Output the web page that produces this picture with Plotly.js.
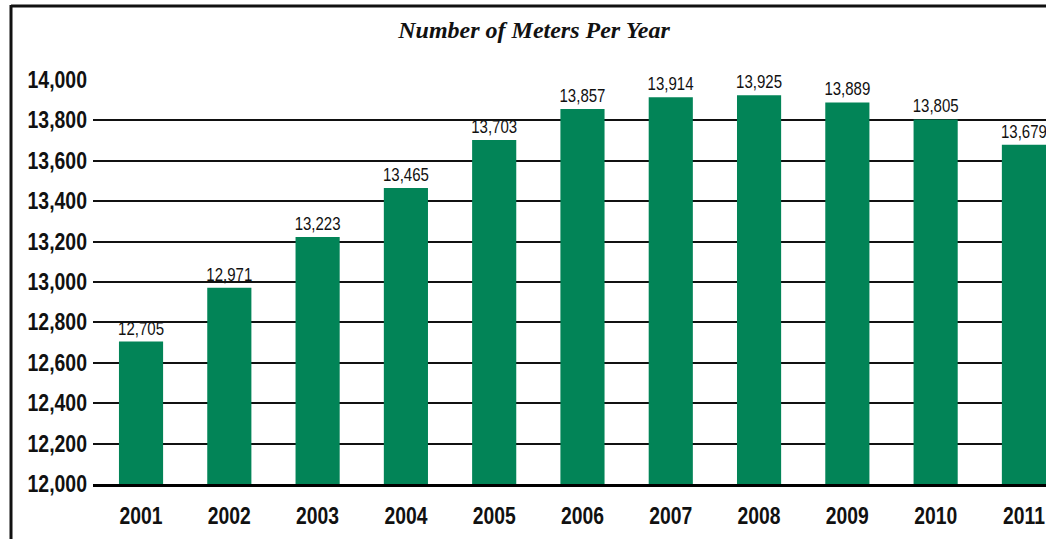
<!DOCTYPE html>
<html>
<head>
<meta charset="utf-8">
<script src="https://cdn.plot.ly/plotly-3.0.1.min.js"></script>
<style>
html,body{margin:0;padding:0;background:#fff;}
#chart{width:1046px;height:539px;}
</style>
</head>
<body>
<div id="chart"></div>
<script>
const years = ["2001","2002","2003","2004","2005","2006","2007","2008","2009","2010","2011"];
const meters = [12705, 12971, 13223, 13465, 13703, 13857, 13914, 13925, 13889, 13805, 13679];
const valueLabels = ["12,705","12,971","13,223","13,465","13,703","13,857","13,914","13,925","13,889","13,805","13,679"];
const yTicks = [12000,12200,12400,12600,12800,13000,13200,13400,13600,13800,14000];
const yTickLabels = ["12,000","12,200","12,400","12,600","12,800","13,000","13,200","13,400","13,600","13,800","14,000"];

const sans = '"Liberation Sans", Arial, sans-serif';

const trace = {
  type: 'bar',
  x: years,
  y: meters,
  text: valueLabels,
  textposition: 'outside',
  constraintext: 'none',
  cliponaxis: false,
  textfont: {family: sans, size: 19, color: '#111'},
  marker: {color: '#028457'},
  width: 0.5,
  hoverinfo: 'skip'
};

const layout = {
  width: 1046,
  height: 539,
  margin: {l: 93, r: 0, t: 80, b: 55, pad: 0},
  paper_bgcolor: '#fff',
  plot_bgcolor: '#fff',
  showlegend: false,
  title: {
    text: '<b><i>Number of Meters Per Year</i></b>',
    font: {family: '"Liberation Serif", "Times New Roman", serif', size: 24, color: '#111'},
    x: 534/1046, xref: 'container', xanchor: 'center',
    y: 1 - 30/539, yref: 'container', yanchor: 'middle'
  },
  xaxis: {
    type: 'category',
    range: [-0.544, 10.25],
    showgrid: false,
    zeroline: false,
    showline: true,
    linecolor: '#000',
    linewidth: 3,
    ticks: '',
    ticklabelstandoff: 9,
    tickfont: {family: sans, size: 23, color: '#111', weight: 'bold'}
  },
  yaxis: {
    range: [12000, 14000],
    tickvals: yTicks,
    ticktext: yTickLabels,
    showgrid: true,
    gridcolor: '#111',
    gridwidth: 2,
    zeroline: false,
    showline: false,
    ticks: '',
    ticklabelstandoff: 5,
    tickfont: {family: sans, size: 23, color: '#111', weight: 'bold'}
  },
  shapes: [
    {type: 'line', xref: 'paper', yref: 'paper', x0: (11-93)/953, x1: 1.01, y0: (484-6)/404, y1: (484-6)/404, line: {color: '#111', width: 3}},
    {type: 'line', xref: 'paper', yref: 'paper', x0: (11-93)/953, x1: (11-93)/953, y0: (484-5)/404, y1: (484-545)/404, line: {color: '#111', width: 3}}
  ]
};

// Condense texts to mimic a narrow typeface (no narrow font installed)
function condense(gd) {
  const groups = [
    ['.ytick text', 0.845],
    ['.xtick text', 0.84],
    ['text.bartext', 0.79]
  ];
  groups.forEach(([sel, f]) => {
    gd.querySelectorAll(sel).forEach(t => {
      const len = t.getComputedTextLength();
      if (len > 0) {
        t.setAttribute('textLength', (len * f).toFixed(2));
        t.setAttribute('lengthAdjust', 'spacingAndGlyphs');
      }
    });
  });
}

Plotly.newPlot('chart', [trace], layout, {displayModeBar: false, staticPlot: true}).then(condense);
</script>
</body>
</html>
